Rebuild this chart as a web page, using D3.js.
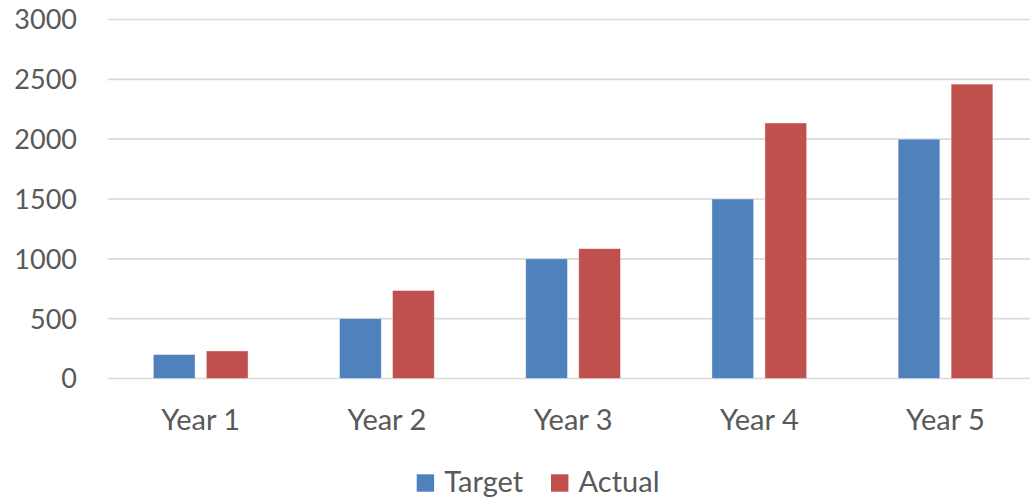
<!DOCTYPE html>
<html><head><meta charset="utf-8">
<script src="https://cdn.jsdelivr.net/npm/d3@7"></script>
<style>body{margin:0;background:#fff}svg{display:block}text{font-family:Lato,"Open Sans",sans-serif;fill:#595959}</style>
</head><body>
<script>
const categories = ["Year 1","Year 2","Year 3","Year 4","Year 5"];
const seriesNames = ["Target","Actual"];
const targetValues = [200,500,1000,1500,2000];
const actualValues = [230,735,1085,2135,2460];
const yTicks = [0,500,1000,1500,2000,2500,3000];
const colors = ["#4F81BD","#C0504D"];

const W=1030,H=499;
const svg=d3.select("body").append("svg").attr("width",W).attr("height",H);
const plotLeft=107.6, plotRight=1038.6, plotTop=19.5, plotBottom=378.5;
const y=d3.scaleLinear().domain([0,3000]).range([plotBottom,plotTop]);
const x0=d3.scaleBand().domain(categories).range([plotLeft,plotRight]).padding(0);
const x1=d3.scaleBand().domain(seriesNames).range([0,x0.bandwidth()]).paddingInner(0.213).paddingOuter(0.863);

// gridlines
svg.append("g").selectAll("line").data(yTicks).join("line")
 .attr("x1",plotLeft).attr("x2",plotRight).attr("y1",d=>y(d)).attr("y2",d=>y(d))
 .attr("stroke","#D9D9D9").attr("stroke-width",1.6);

// y axis labels
const yAxis=d3.axisLeft(y).tickValues(yTicks).tickFormat(d3.format("d")).tickSize(0).tickPadding(0);
const ya=svg.append("g").attr("transform","translate(77,0)").call(yAxis);
ya.select(".domain").remove();
ya.selectAll("text").attr("font-size",27).attr("font-family","Lato").attr("fill","#595959").attr("dy","0.35em");

// x axis labels
const xAxis=d3.axisBottom(x0).tickSize(0).tickPadding(0);
const xa=svg.append("g").attr("transform","translate(0,430)").call(xAxis);
xa.select(".domain").remove();
xa.selectAll("text").attr("font-size",29).attr("font-family","Lato").attr("fill","#595959").attr("dy",0);

const data=categories.map((c,i)=>({cat:c,vals:[targetValues[i],actualValues[i]]}));
const g=svg.append("g").selectAll("g").data(data).join("g")
 .attr("transform",d=>`translate(${x0(d.cat)},0)`);
g.selectAll("rect").data(d=>d.vals.map((v,j)=>({name:seriesNames[j],v,j}))).join("rect")
 .attr("x",d=>x1(d.name)).attr("width",x1.bandwidth())
 .attr("y",d=>y(d.v)).attr("height",d=>y(0)-y(d.v))
 .attr("fill",d=>colors[d.j]).attr("stroke","#fff").attr("stroke-opacity",0.5).attr("stroke-width",0.75);

// legend
const legX=[416.7,551];
const lg=svg.append("g").selectAll("g").data(seriesNames).join("g")
 .attr("transform",(d,i)=>`translate(${legX[i]},0)`);
lg.append("rect").attr("x",0).attr("y",474.3).attr("width",17.4).attr("height",17.4).attr("fill",(d,i)=>colors[i]);
lg.append("text").attr("x",27.6).attr("y",491.7).attr("font-size",29).text(d=>d);
</script>
</body></html>
